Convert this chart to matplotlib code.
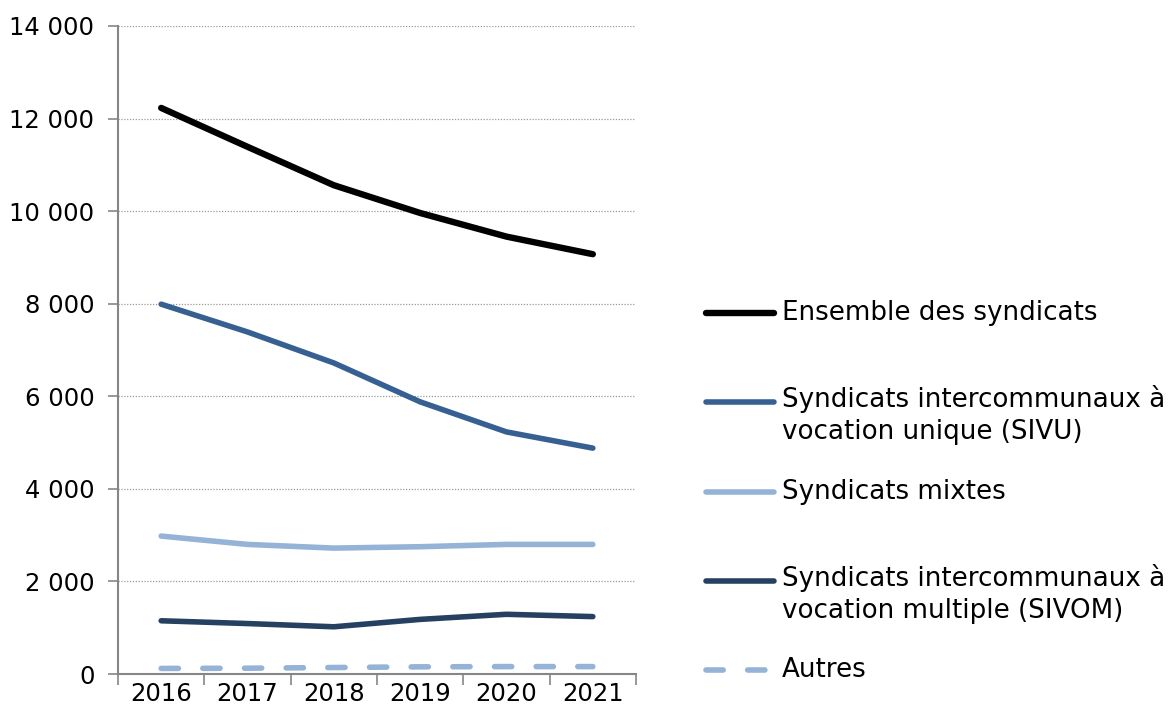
import numpy as np
from matplotlib import pyplot as plt
from matplotlib.lines import Line2D
from matplotlib.transforms import ScaledTranslation

# Data
years = ['2016', '2017', '2018', '2019', '2020', '2021']
ensemble = [12230, 11390, 10560, 9960, 9450, 9070]
sivu = [7990, 7390, 6720, 5880, 5230, 4880]
mixtes = [2980, 2800, 2720, 2750, 2800, 2800]
sivom = [1150, 1090, 1020, 1180, 1290, 1240]
autres = [120, 125, 140, 155, 160, 160]

labels = ['Ensemble des syndicats',
          'Syndicats intercommunaux à\nvocation unique (SIVU)',
          'Syndicats mixtes',
          'Syndicats intercommunaux à\nvocation multiple (SIVOM)',
          'Autres']

plt.rcParams['font.family'] = ['DejaVu Sans']
fs = 17.5

fig = plt.figure(figsize=(11.75, 7.16), dpi=100)
ax = fig.add_axes([118 / 1175, 42 / 716, (636 - 118) / 1175, (674 - 26) / 716])

x = np.arange(len(years))
styles = [
    dict(color='black', lw=4.6),
    dict(color='#376092', lw=4.0),
    dict(color='#95b3d7', lw=4.0),
    dict(color='#254061', lw=4.0),
    dict(color='#95b3d7', lw=4.0, dashes=(3.1, 4.4), dash_capstyle='round'),
]
series = [ensemble, sivu, mixtes, sivom, autres]
# lower series first so the big ones sit on top
for vals, st in zip(series[::-1], styles[::-1]):
    ax.plot(x, vals, solid_capstyle='round', solid_joinstyle='round', **st)

ax.set_xlim(-0.5, len(years) - 0.5)
ax.set_ylim(0, 14000)
yt = np.arange(0, 14001, 2000)
ax.set_yticks(yt)
ax.set_yticklabels(['{:,}'.format(v).replace(',', ' ') for v in yt], fontsize=fs)
ax.set_xticks(x)
ax.set_xticklabels(years, fontsize=fs)
ax.set_xticks(np.arange(-0.5, len(years)), minor=True)
ax.tick_params(axis='x', which='major', length=0, pad=6)
ax.tick_params(axis='x', which='minor', length=8, width=1.2, color='#868686', direction='out')
ax.tick_params(axis='y', length=7, width=1.2, color='#868686', pad=10)

ax.grid(axis='y', linestyle=(0, (1, 1.3)), color='#9a9a9a', linewidth=0.9)
ax.set_axisbelow(True)
for s in ['top', 'right']:
    ax.spines[s].set_visible(False)
for s in ['left', 'bottom']:
    ax.spines[s].set_color('#868686')
    ax.spines[s].set_linewidth(1.5)

# Legend on the right, placed like the original (Excel) layout
leg_fs = 18.8
leg_y = [313, 402, 492, 581, 670]
for lab, st, yp in zip(labels, styles, leg_y):
    yf = 1 - yp / 716
    fig.add_artist(Line2D([706 / 1175, 774 / 1175], [yf, yf], transform=fig.transFigure,
                          solid_capstyle='round', **st))
    if '\n' in lab:
        tr = fig.transFigure + ScaledTranslation(0, 17 / 100, fig.dpi_scale_trans)
        fig.text(782 / 1175, yf, lab, fontsize=leg_fs, va='top', ha='left',
                 linespacing=1.3, transform=tr)
    else:
        fig.text(782 / 1175, yf, lab, fontsize=leg_fs, va='center', ha='left')

fig.savefig('out.png', dpi=100)
